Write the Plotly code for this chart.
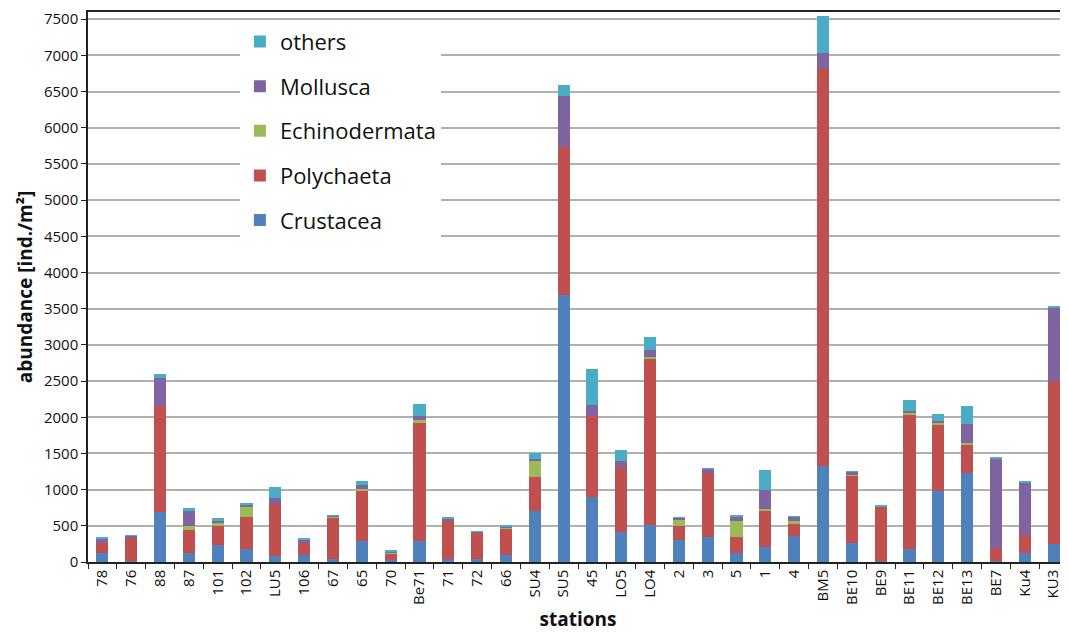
import plotly.graph_objects as go

stations = ["78","76","88","87","101","102","LU5","106","67","65","70","Be71","71","72","66","SU4","SU5",
            "45","LO5","LO4","2","3","5","1","4","BM5","BE10","BE9","BE11","BE12","BE13","BE7","Ku4","KU3"]
crustacea = [124,14,695,124,235,179,83,92,46,294,32,285,37,37,97,704,3685,892,414,511,304,340,124,212,363,1325,267,14,175,984,1228,14,120,248]
polychaeta = [138,331,1467,322,266,437,722,166,575,695,83,1642,524,372,368,474,2047,1132,892,2295,197,888,216,487,171,5507,924,750,1858,907,391,179,253,2250]
echinodermata = [0,0,0,55,37,138,0,0,8,18,18,42,0,0,18,225,0,0,0,28,83,0,230,37,27,0,14,0,28,32,19,0,0,0]
mollusca = [65,18,386,198,32,28,83,59,10,51,14,55,37,14,14,23,709,147,88,96,32,60,65,258,65,198,42,0,27,23,266,1242,731,1016]
others = [5,4,51,42,42,32,152,10,8,60,23,166,14,5,18,74,147,492,152,175,4,9,5,276,5,510,5,27,157,101,258,19,18,23]

series = [
    ("Crustacea", crustacea, "#4F81BD", 5),
    ("Polychaeta", polychaeta, "#C0504D", 4),
    ("Echinodermata", echinodermata, "#9BBB59", 3),
    ("Mollusca", mollusca, "#8064A2", 2),
    ("others", others, "#4BACC6", 1),
]

FONT = "Open Sans"
fig = go.Figure()
for name, vals, col, rank in series:
    fig.add_trace(go.Bar(x=stations, y=vals, name=name, legendgroup=name, legendrank=rank,
                         marker=dict(color=col, line=dict(width=0))))

fig.update_layout(
    barmode="stack",
    bargap=0.58,
    width=1060, height=624,
    margin=dict(l=80, r=0, t=4, b=70, autoexpand=False),
    plot_bgcolor="white", paper_bgcolor="white",
    font=dict(family=FONT, color="#222222"),
    legend=dict(x=0.155, y=0.984, xanchor="left", yanchor="top",
                traceorder="grouped", tracegroupgap=13,
                font=dict(size=22, family=FONT, color="#111111"),
                bgcolor="white", itemwidth=30),
    xaxis=dict(type="category", showline=True, linecolor="#222222", linewidth=1.5,
               mirror=True, ticks="outside", tickson="boundaries", ticklen=5,
               tickcolor="#222222", tickangle=-90, automargin=False,
               tickfont=dict(size=15, family=FONT, color="#111111"),
               title=dict(text="<b>stations</b>", font=dict(size=19, family=FONT, color="#111111"), standoff=12)),
    yaxis=dict(range=[0, 7600], dtick=500, showline=True, linecolor="#222222", linewidth=1.5,
               ticks="outside", ticklen=5, tickcolor="#222222", automargin=False,
               showgrid=True, gridcolor="#b0b0b0", gridwidth=1.5,
               tickfont=dict(size=15, family=FONT, color="#111111"),
               title=dict(text="<b>abundance [ind./m²]</b>", font=dict(size=19, family=FONT, color="#111111"), standoff=6)),
)

fig.write_html("out.html")
